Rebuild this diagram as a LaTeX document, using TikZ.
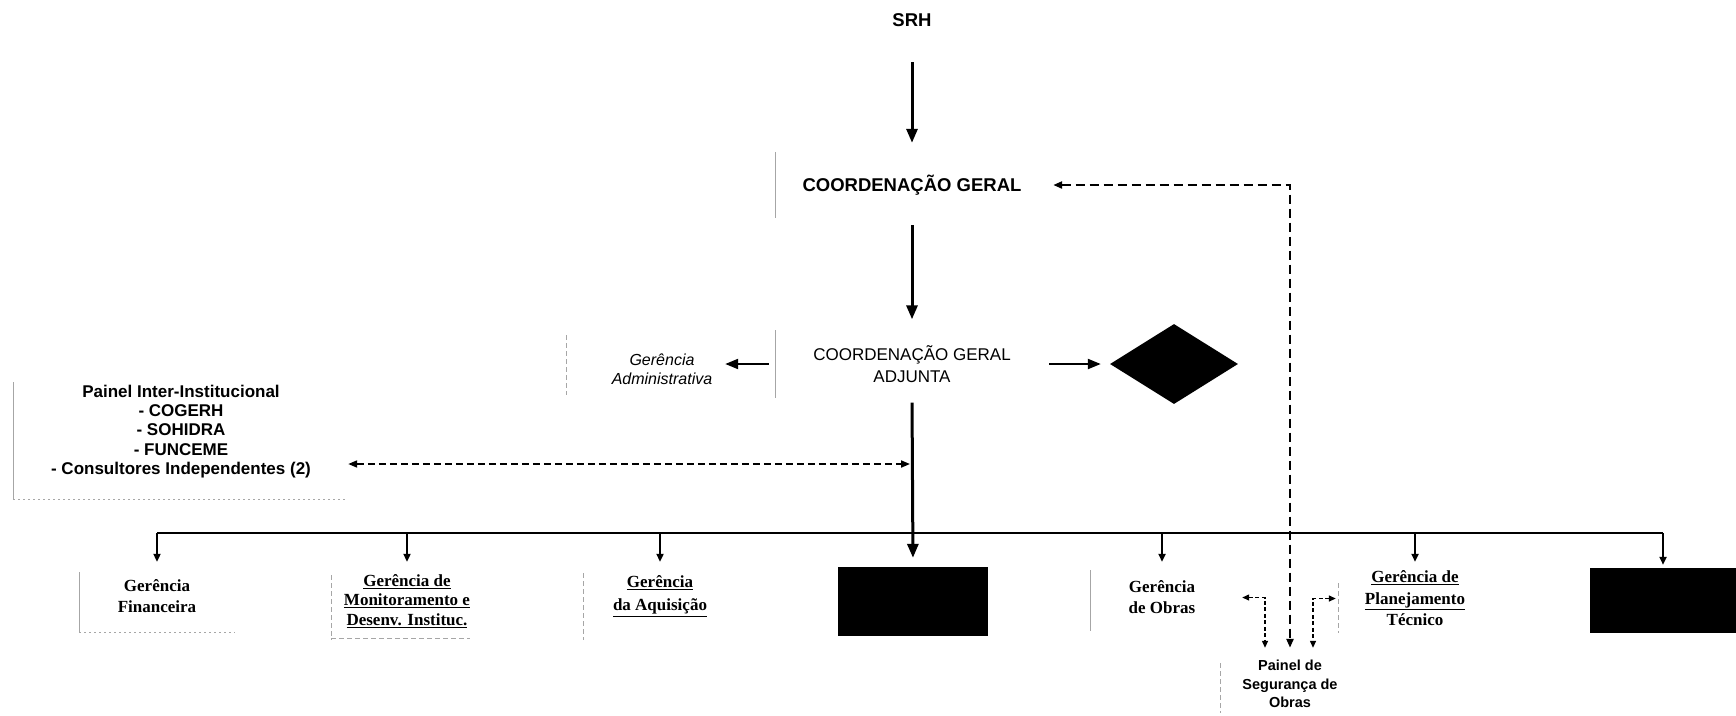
\documentclass[tikz,border=0pt]{standalone}
\usepackage{fontspec}
\setmainfont{Liberation Serif}
\setsansfont{Liberation Sans}
\usetikzlibrary{arrows.meta,shapes.geometric}
\begin{document}
\begin{tikzpicture}[x=1pt,y=-1pt,
  bigarr/.style={line width=3pt,-{Triangle[length=14pt,width=11pt]}},
  medarr/.style={line width=2.2pt,-{Triangle[length=13pt,width=10pt]}},
  smallarr/.style={line width=2.2pt,-{Triangle[length=8pt,width=7pt]}},
  busline/.style={line width=2.2pt},
  darr/.style={line width=1.8pt,dash pattern=on 7pt off 4pt,{Triangle[length=9pt,width=7pt]}-{Triangle[length=9pt,width=7pt]}},
  fbarr/.style={line width=2.6pt,dash pattern=on 9pt off 5pt,{Triangle[length=9pt,width=7pt]}-{Triangle[length=9pt,width=7pt]}},
  thinarr/.style={line width=1.3pt,dash pattern=on 4pt off 2.5pt,{Triangle[length=7pt,width=6pt]}-{Triangle[length=7pt,width=6pt]}},
  outl/.style={gray!70,line width=1pt},
  doutl/.style={gray!70,line width=1pt,dash pattern=on 5pt off 3pt},
  dotl/.style={gray!70,line width=1pt,dash pattern=on 2pt off 3pt},
  srhst/.style={font=\sffamily\bfseries\fontsize{18.5}{22}\selectfont,inner sep=0pt},
  cgst/.style={font=\sffamily\bfseries\fontsize{18.5}{22}\selectfont,inner sep=0pt,align=center},
  cgast/.style={font=\sffamily\fontsize{17}{22}\selectfont,inner sep=0pt,align=center},
  gast/.style={font=\sffamily\itshape\fontsize{16}{19}\selectfont,inner sep=0pt,align=center},
  piist/.style={font=\sffamily\bfseries\fontsize{17}{19.3}\selectfont,inner sep=0pt,align=center},
  segst/.style={font=\sffamily\bfseries\fontsize{14.5}{18.5}\selectfont,inner sep=0pt,align=center},
  botst/.style={font=\bfseries\fontsize{17}{21}\selectfont,inner sep=0pt,align=center},
  blkst/.style={fill=black,draw=none,inner sep=0pt}
]
\useasboundingbox (0,0) rectangle (1736,715);

% top nodes
\node[srhst] (srh) at (912,20) {SRH};
\coordinate (srhout) at (912,62);
\node[cgst,minimum width=272pt,minimum height=66pt] (cg) at (912,185) {COORDENAÇÃO GERAL};
\node[cgast,minimum width=272pt,minimum height=67pt] (cga) at (912,364) {COORDENAÇÃO GERAL\\ADJUNTA};
\node[gast,minimum width=126pt] (ga) at (662,369) {Gerência\\Administrativa};
\node[diamond,fill=black,minimum width=128pt,minimum height=80pt,inner sep=0pt] (dia) at (1174,364) {};
\node[piist,minimum width=334pt,minimum height=118pt] (pii) at (181,431.5)
  {Painel Inter-Institucional\\- COGERH\\- SOHIDRA\\- FUNCEME\\- Consultores Independentes (2)};

% bottom row
\node[botst,minimum width=156pt,minimum height=69pt] (fin) at (157,596.5) {Gerência\\Financeira};
\node[botst,minimum width=150pt,minimum height=78pt,font=\bfseries\fontsize{17}{19.5}\selectfont] (mon) at (407,601)
  {\underline{Gerência de}\\\underline{Monitoramento e}\\\underline{Desenv. Instituc.}};
\node[botst,minimum width=150pt,minimum height=68pt,font=\bfseries\fontsize{17}{23}\selectfont] (aq) at (660,596)
  {\underline{Gerência}\\\underline{da Aquisição}};
\node[blkst,minimum width=150pt,minimum height=69pt] (blk1) at (913,601.5) {};
\node[botst,minimum width=160pt,minimum height=71pt] (obras) at (1162,597.5) {Gerência\\de Obras};
\node[botst,minimum width=158pt,minimum height=73pt,font=\bfseries\fontsize{17}{21.5}\selectfont] (plan) at (1415,598.5)
  {\underline{Gerência de}\\\underline{Planejamento}\\Técnico};
\node[blkst,minimum width=146pt,minimum height=65pt] (blk2) at (1663,600.5) {};
\node[segst,minimum width=120pt,minimum height=72pt] (seg) at (1290,684) {Painel de\\Segurança de\\Obras};

% partial box outlines
\draw[outl] (cg.north west) -- (cg.south west);
\draw[outl] (cga.north west) -- (cga.south west);
\draw[doutl] (566,335) -- (566,395);
\draw[outl] (13,382) -- (13,500);
\draw[dotl] (13,499) -- (345,499);
\draw[outl] (79,572) -- (79,632);
\draw[dotl] (79,632) -- (235,632);
\draw[doutl] (331,575) -- (331,640);
\draw[doutl] (331,638) -- (470,638);
\draw[doutl] (583,573) -- (583,640);
\draw[outl] (1090,570) -- (1090,631);
\draw[doutl] (1338,583) -- (1338,633);
\draw[doutl] (1220,663) -- (1220,713);

% connectors
\draw[bigarr,shorten >=9pt] (srhout) -- (cg.north);
\draw[bigarr,shorten <=7pt,shorten >=11pt] (cg.south) -- (cga.north);
\draw[medarr,shorten <=7pt] (cga.west) -- (cga.west -| ga.east);
\draw[medarr,shorten <=1pt,shorten >=9pt] (cga.east) -- (dia.west);

\coordinate (bus) at (912,533);
\coordinate (j) at (912,464);
\draw[bigarr,shorten <=5pt,shorten >=9pt] (cga.south) -- (blk1.north);
\draw[darr,shorten >=2pt] (pii.east |- j) -- (j);

\draw[busline] (fin.north |- bus) -- (blk2.north |- bus);
\foreach \n in {fin,mon,aq,obras,plan}
  \draw[smallarr] (\n.north |- bus) -- (\n.north);
\draw[smallarr,shorten >=3pt] (blk2.north |- bus) -- (blk2.north);

\draw[fbarr,shorten <=5pt] (cg.east) -| (seg.north);
\draw[thinarr] (obras.east) -| ([xshift=-25pt]seg.north);
\draw[thinarr] (plan.west) -| ([xshift=23pt]seg.north);
\end{tikzpicture}
\end{document}
